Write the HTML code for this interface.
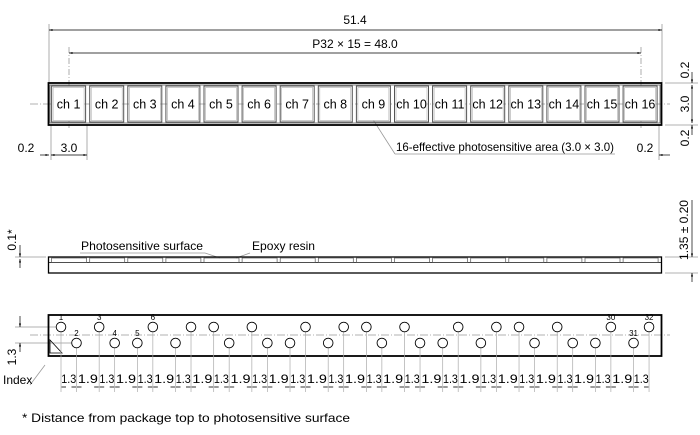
<!DOCTYPE html>
<html><head><meta charset="utf-8"><style>
html,body{margin:0;padding:0;background:#fff;width:700px;height:435px;overflow:hidden}
svg{display:block;font-family:"Liberation Sans",sans-serif}
</style></head><body>
<svg id="s" width="700" height="435" viewBox="0 0 700 435" xmlns="http://www.w3.org/2000/svg">
<defs>
<marker id="a" viewBox="0 0 10 10" refX="10" refY="5" markerWidth="7" markerHeight="5" orient="auto-start-reverse"><path d="M0,2L10,5L0,8z" fill="#000"/></marker>
</defs>
<g stroke="#999" stroke-width="0.8" fill="none">
<line x1="49" y1="24" x2="49" y2="83"/><line x1="662" y1="24" x2="662" y2="83"/>
<line x1="69" y1="47" x2="69" y2="128" stroke-dasharray="6,2,1,2"/><line x1="641" y1="47" x2="641" y2="128" stroke-dasharray="6,2,1,2"/>
<line x1="665" y1="83" x2="698" y2="83"/><line x1="665" y1="125" x2="698" y2="125"/>
<line x1="51" y1="125" x2="51" y2="160"/><line x1="87" y1="125" x2="87" y2="160"/><line x1="659" y1="125" x2="659" y2="160"/>
<line x1="30" y1="104" x2="670" y2="104" stroke-dasharray="8,2,1,2"/>
<line x1="665" y1="257" x2="698" y2="257"/><line x1="665" y1="273" x2="698" y2="273"/>
<line x1="15" y1="257" x2="46" y2="257"/>
<line x1="30" y1="335" x2="670" y2="335" stroke-dasharray="8,2,1,2"/>
<line x1="15" y1="327" x2="60" y2="327"/><line x1="15" y1="343" x2="75" y2="343"/>
<line x1="45" y1="365" x2="30" y2="385"/>
<line x1="395" y1="154" x2="615" y2="154"/><line x1="395" y1="154" x2="372" y2="118"/>
<line x1="80" y1="253" x2="205" y2="253"/><line x1="205" y1="253" x2="220" y2="258"/>
<line x1="250" y1="253" x2="236" y2="258"/>
</g>
<g stroke="#000" stroke-width="0.7" fill="none">
<line x1="49" y1="30" x2="662" y2="30" marker-start="url(#a)" marker-end="url(#a)"/>
<line x1="69" y1="53" x2="641" y2="53" marker-start="url(#a)" marker-end="url(#a)"/>
<line x1="40" y1="155" x2="49" y2="155" marker-end="url(#a)"/><line x1="51" y1="155" x2="87" y2="155" marker-start="url(#a)" marker-end="url(#a)"/>
<line x1="659" y1="155" x2="670" y2="155" marker-start="url(#a)"/>
<line x1="692" y1="72" x2="692" y2="83" marker-end="url(#a)"/><line x1="692" y1="85" x2="692" y2="123" marker-start="url(#a)" marker-end="url(#a)"/><line x1="692" y1="125" x2="692" y2="135" marker-start="url(#a)"/>
<line x1="692" y1="200" x2="692" y2="257" marker-end="url(#a)"/><line x1="692" y1="273" x2="692" y2="282" marker-start="url(#a)"/>
<line x1="20" y1="245" x2="20" y2="257" marker-end="url(#a)"/><line x1="20" y1="259" x2="20" y2="268" marker-start="url(#a)"/>
<line x1="20" y1="316" x2="20" y2="327" marker-end="url(#a)"/><line x1="20" y1="343" x2="20" y2="352" marker-start="url(#a)"/>
</g>
<rect x="48.5" y="83" width="613" height="42" fill="none" stroke="#000" stroke-width="1.8"/>
<rect x="50" y="85" width="610" height="38" fill="none" stroke="#444" stroke-width="0.7"/>
<rect x="48.5" y="257" width="613" height="16" fill="none" stroke="#000" stroke-width="1.3"/>
<line x1="49" y1="262.5" x2="661" y2="262.5" stroke="#000" stroke-width="0.7"/>
<rect x="48.5" y="315" width="613" height="41" fill="none" stroke="#000" stroke-width="1.8"/>
<path d="M50,340 L50,353 L62,353 Z" fill="none" stroke="#000" stroke-width="0.8"/>
<g id="dyn"></g>
<g font-size="12" fill="#000">
<text x="355" y="24" text-anchor="middle">51.4</text>
<text x="355" y="48" text-anchor="middle">P32 × 15 = 48.0</text>
<text x="26" y="152" text-anchor="middle">0.2</text>
<text x="69" y="152" text-anchor="middle">3.0</text>
<text x="645" y="152" text-anchor="middle">0.2</text>
<text x="396" y="151" textLength="218" lengthAdjust="spacingAndGlyphs">16-effective photosensitive area (3.0 × 3.0)</text>
<text x="81" y="250" textLength="122" lengthAdjust="spacingAndGlyphs">Photosensitive surface</text>
<text x="252" y="250" textLength="63" lengthAdjust="spacingAndGlyphs">Epoxy resin</text>
<text x="22" y="422" textLength="328" lengthAdjust="spacingAndGlyphs">* Distance from package top to photosensitive surface</text>
<text x="3" y="384">Index</text>
<text transform="translate(689,70) rotate(-90)" text-anchor="middle">0.2</text>
<text transform="translate(689,104) rotate(-90)" text-anchor="middle">3.0</text>
<text transform="translate(689,138) rotate(-90)" text-anchor="middle">0.2</text>
<text transform="translate(688,230) rotate(-90)" text-anchor="middle">1.35 ± 0.20</text>
<text transform="translate(16,240) rotate(-90)" text-anchor="middle">0.1*</text>
<text transform="translate(16,357) rotate(-90)" text-anchor="middle">1.3</text>
</g>
</svg>
<script>
(function(){
var NS="http://www.w3.org/2000/svg",g=document.getElementById("dyn");
function el(t,a,txt){var e=document.createElementNS(NS,t);for(var k in a)e.setAttribute(k,a[k]);if(txt)e.textContent=txt;g.appendChild(e);return e;}
var pitch=38.1;
for(var i=0;i<16;i++){
 var x=50.6+i*pitch;
 el("rect",{x:x+1,y:86,width:34,height:36,fill:"none",stroke:"#555","stroke-width":1});
 el("rect",{x:x+2.5,y:87.5,width:31,height:33,fill:"#fff",stroke:"#aaa","stroke-width":0.6});
 el("text",{x:x+18,y:108.5,"font-size":12.5,"text-anchor":"middle"},"ch "+(i+1));
 el("rect",{x:x+1,y:258,width:35,height:4.5,fill:"none",stroke:"#555","stroke-width":0.7});
}
var pat=[0,1,0,1,1,0,1,0],xs=[];
for(var k=0;k<32;k++){
 var x=61+Math.floor(k/2)*38.17+(k%2?15.5:0);xs.push(x);
 var isTop=pat[k%8]==0,cy=isTop?327:343;
 el("line",{x1:x,y1:cy+5,x2:x,y2:392,stroke:"#aaa","stroke-width":0.7});
 el("circle",{cx:x,cy:cy,r:4.8,fill:"#fff",stroke:"#000","stroke-width":0.9});
}
var labs=[[0,1],[1,2],[2,3],[3,4],[4,5],[5,6],[29,30],[30,31],[31,32]];
labs.forEach(function(p){var k=p[0];var ly=pat[k%8]==0?320:336;el("text",{x:xs[k],y:ly,"font-size":8,"text-anchor":"middle"},String(p[1]));});
for(var k=0;k<31;k++){
 var m=(xs[k]+xs[k+1])/2;
 el("text",{x:m,y:383,"font-size":12,"text-anchor":"middle",textLength:(k%2?20:15),lengthAdjust:"spacingAndGlyphs"},k%2?"1.9":"1.3");
 el("line",{x1:xs[k]+0.5,y1:387,x2:xs[k]+5,y2:387,stroke:"#000","stroke-width":0.8});
 el("line",{x1:xs[k+1]-5,y1:387,x2:xs[k+1]-0.5,y2:387,stroke:"#000","stroke-width":0.8});
}
})();
</script>
</body></html>
